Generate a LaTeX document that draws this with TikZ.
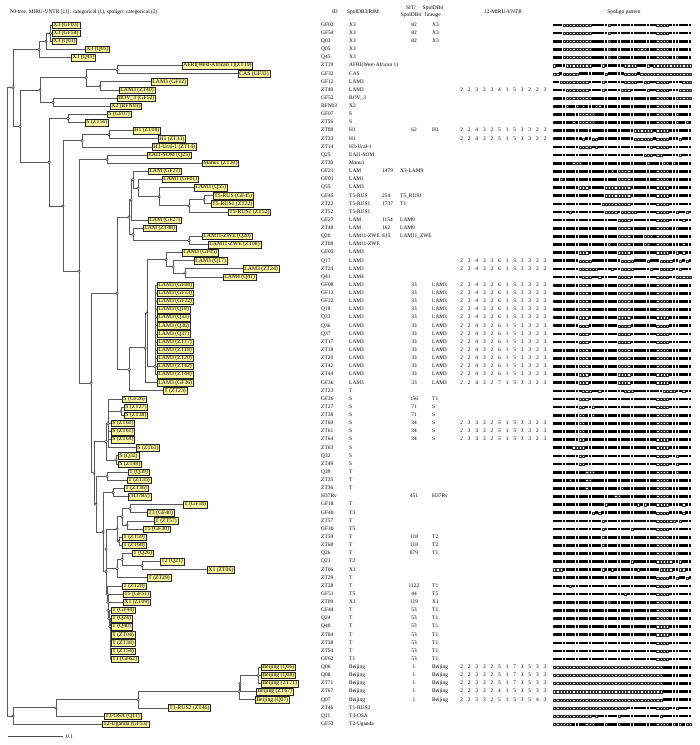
\documentclass[tikz,border=0pt]{standalone}
\usepackage{fontspec}
\setmainfont{Liberation Serif}
\usetikzlibrary{shadows}
\definecolor{labfill}{RGB}{250,246,160}
\definecolor{treeg}{RGB}{90,90,90}
\tikzset{
 tl/.style={draw=treeg, line width=0.85pt},
 lab/.style={draw=black!85, line width=0.45pt, fill=labfill, anchor=west, font=\fontsize{5.7}{6}\selectfont, inner xsep=1.2pt, inner ysep=0.85pt, text height=3.7pt, text depth=1.1pt, drop shadow={shadow xshift=0.5pt, shadow yshift=-0.5pt, fill=black!45, opacity=1}},
 tab/.style={anchor=west, inner sep=0pt, font=\fontsize{5.4}{6}\selectfont, text height=3.6pt, text depth=1pt},
 tabc/.style={tab, anchor=center},
 hdr/.style={inner sep=0pt, font=\fontsize{5.4}{6}\selectfont},
 spolon/.style={fill=black},
 spoloff/.style={draw=black!80, line width=0.35pt, fill=white},
 nd/.style={draw=black!80, fill=white, line width=0.45pt},
}
\newcount\spi
\def\spolloop#1{%
  \ifx\relax#1\else
    \ifnum#1=1
      \fill[spolon] ({553+3.23*\the\spi},{\spy-1.35}) rectangle ++(2.75,2.7);%
    \else
      \draw[spoloff] ({553.25+3.23*\the\spi},{\spy-1.1}) rectangle ++(2.25,2.2);%
    \fi
    \advance\spi by 1
    \expandafter\spolloop
  \fi}
\newcommand\spolrow[2]{\pgfmathsetmacro\spy{25+8.13*(#1-1)}\spi=0 \expandafter\spolloop#2\relax}
\newcommand\trow[3]{\pgfmathsetmacro\yy{25+8.13*(#1-1)}%
  \node[tab] (id#1) at (321,\yy) {#2};\node[tab] (db#1) at (349,\yy) {#3};}
\newcommand\sitA[3]{\pgfmathsetmacro\yy{25+8.13*(#1-1)}%
  \node[tabc] (sit#1) at (414,\yy) {#2};\node[tab] (lin#1) at (432,\yy) {#3};}
\newcommand\sitB[3]{\pgfmathsetmacro\yy{25+8.13*(#1-1)}%
  \node[tab] (sit#1) at (382,\yy) {#2};\node[tab] (lin#1) at (400,\yy) {#3};}
\newcommand\miru[2]{\pgfmathsetmacro\yy{25+8.13*(#1-1)}%
  \foreach \d [count=\k from 0] in {#2} {\node[tabc] (m#1-\k) at ({461.7+7.57*\k},\yy) {\d};}}
\newcommand\leaf[4]{\pgfmathsetmacro\yy{25+8.13*(#2-1)}\node[lab] (#1) at (#3,\yy) {#4};}
\newcommand\brn[2]{\draw[tl] (#1) |- (#2);}
\def\pXiii{111 000000000 11111 0 1111111111 1111 0000 1111111}
\def\pLAMiii{11111111 000 111111111 0000 11111111 0000 1111111}
\def\pSxxxiv{11111111 00 1111111111 1111111111 11 0000 1111111}
\def\pTi{1111111111 1111111111 1111111111 11 0000 1111111}
\def\pBeij{0000000000 0000000000 0000000000 0000 111111111}
\begin{document}
\begin{tikzpicture}[x=1pt,y=-1pt]
\useasboundingbox (0,0) rectangle (700,745);
\fill[white] (0,0) rectangle (700,745);
% headers
\node[hdr, anchor=west] (title) at (10,12) {NJ-tree, MIRU-VNTR [11]: categorical (1), spoligo: categorical (2)};
\node[hdr] (hID) at (335,12) {ID};
\node[hdr] (hDB3) at (363,12) {SpolDB3/RIM};
\node[hdr] (hSIT) at (411,8) {SIT/};
\node[hdr] (hSITb) at (411,15.5) {SpolDB4};
\node[hdr] (hLin) at (433,8) {SpolDB4};
\node[hdr] (hLinb) at (433,15.5) {lineage};
\node[hdr] (hMIRU) at (503,12) {12-MIRU-VNTR};
\node[hdr] (hSpol) at (624,12) {Spoligo pattern};
% leaves
\leaf{L1}{1}{52}{X3 (GF03)}
\leaf{L2}{2}{52}{X3 (GF54)}
\leaf{L3}{3}{52}{X3 (Q03)}
\leaf{L4}{4}{85}{X3 (Q05)}
\leaf{L5}{5}{71}{X3 (Q45)}
\leaf{L6}{6}{182}{AFRI(West-African 1)(ZT19)}
\leaf{L7}{7}{238}{CAS (GF32)}
\leaf{L8}{8}{151}{LAM3 (GF12)}
\leaf{L9}{9}{119}{LAM3 (ZT40)}
\leaf{L10}{10}{117}{BOV\_3 (GF52)}
\leaf{L11}{11}{110}{X2 (BFN03)}
\leaf{L12}{12}{107}{S (GF07)}
\leaf{L13}{13}{85}{S (ZT56)}
\leaf{L14}{14}{133}{H1 (ZT08)}
\leaf{L15}{15}{158}{H1 (ZT33)}
\leaf{L16}{16}{152}{H3-Ural-1 (ZT14)}
\leaf{L17}{17}{147}{EAI1-SOM (Q25)}
\leaf{L18}{18}{202}{Manu1 (ZT30)}
\leaf{L19}{19}{148}{LAM (GF21)}
\leaf{L20}{20}{162}{LAM1 (GF01)}
\leaf{L21}{21}{194}{LAM3 (Q55)}
\leaf{L22}{22}{213}{T5-RUS (GF45)}
\leaf{L23}{23}{211}{T5-RUS1 (ZT22)}
\leaf{L24}{24}{228}{T5-RUS1 (ZT52)}
\leaf{L25}{25}{148}{LAM (GF27)}
\leaf{L26}{26}{143}{LAM (ZT48)}
\leaf{L27}{27}{202}{LAM11-ZWE (Q20)}
\leaf{L28}{28}{208}{LAM11-ZWE (ZT08)}
\leaf{L29}{29}{182}{LAM3 (GF05)}
\leaf{L30}{30}{194}{LAM3 (Q17)}
\leaf{L31}{31}{243}{LAM3 (ZT24)}
\leaf{L32}{32}{223}{LAM4 (Q41)}
\leaf{L33}{33}{157}{LAM3 (GF08)}
\leaf{L34}{34}{157}{LAM3 (GF13)}
\leaf{L35}{35}{157}{LAM3 (GF22)}
\leaf{L36}{36}{157}{LAM3 (Q18)}
\leaf{L37}{37}{157}{LAM3 (Q33)}
\leaf{L38}{38}{157}{LAM3 (Q36)}
\leaf{L39}{39}{157}{LAM3 (Q37)}
\leaf{L40}{40}{157}{LAM3 (ZT17)}
\leaf{L41}{41}{157}{LAM3 (ZT18)}
\leaf{L42}{42}{157}{LAM3 (ZT20)}
\leaf{L43}{43}{157}{LAM3 (ZT42)}
\leaf{L44}{44}{157}{LAM3 (ZT44)}
\leaf{L45}{45}{157}{LAM3 (GF36)}
\leaf{L46}{46}{163}{T (ZT23)}
\leaf{L47}{47}{122}{S (GF26)}
\leaf{L48}{48}{124}{S (ZT27)}
\leaf{L49}{49}{124}{S (ZT38)}
\leaf{L50}{50}{111}{S (ZT60)}
\leaf{L51}{51}{111}{S (ZT61)}
\leaf{L52}{52}{111}{S (ZT64)}
\leaf{L53}{53}{136}{S (ZT63)}
\leaf{L54}{54}{118}{S (Q32)}
\leaf{L55}{55}{118}{S (ZT49)}
\leaf{L56}{56}{128}{T (Q39)}
\leaf{L57}{57}{127}{T (ZT35)}
\leaf{L58}{58}{124}{T (ZT36)}
\leaf{L59}{59}{128}{(H37Rv)}
\leaf{L60}{60}{183}{T (GF18)}
\leaf{L61}{61}{147}{T3 (GF40)}
\leaf{L62}{62}{154}{T (ZT57)}
\leaf{L63}{63}{143}{T5 (GF30)}
\leaf{L64}{64}{122}{T (ZT59)}
\leaf{L65}{65}{122}{T (ZT68)}
\leaf{L66}{66}{132}{T (Q26)}
\leaf{L67}{67}{160}{T2 (Q21)}
\leaf{L68}{68}{207}{X1 (ZT06)}
\leaf{L69}{69}{147}{T (ZT29)}
\leaf{L70}{70}{122}{T (ZT28)}
\leaf{L71}{71}{123}{T5 (GF51)}
\leaf{L72}{72}{123}{X1 (ZT09)}
\leaf{L73}{73}{111}{T (GF44)}
\leaf{L74}{74}{111}{T (Q24)}
\leaf{L75}{75}{111}{T (Q40)}
\leaf{L76}{76}{111}{T (ZT04)}
\leaf{L77}{77}{111}{T (ZT38)}
\leaf{L78}{78}{111}{T (ZT54)}
\leaf{L79}{79}{111}{T1 (GF62)}
\leaf{L80}{80}{261}{Beijing (Q06)}
\leaf{L81}{81}{261}{Beijing (Q08)}
\leaf{L82}{82}{261}{Beijing (ZT71)}
\leaf{L83}{83}{256}{Beijing (ZT67)}
\leaf{L84}{84}{255}{Beijing (Q07)}
\leaf{L85}{85}{168}{T1-RUS2 (ZT46)}
\leaf{L86}{86}{104}{T3-OSA (Q11)}
\leaf{L87}{87}{102}{T2-Uganda (GF53)}
% internal nodes
\coordinate (x3a) at (50.5,33.13);
\coordinate (x3b) at (46,41.26);
\coordinate (x3c) at (39,49.39);
\coordinate (A) at (13,87.77);
\coordinate (B) at (20,126.15);
\coordinate (C) at (40,90.05);
\coordinate (n86) at (86,77.85);
\coordinate (n117) at (117,69.72);
\coordinate (n100) at (100,85.98);
\coordinate (n53) at (53,102.24);
\coordinate (D) at (49,162.25);
\coordinate (nS1) at (68,118.5);
\coordinate (Q7) at (63,206);
\coordinate (Hn) at (82,140.85);
\coordinate (H1n) at (109,134.76);
\coordinate (Q6) at (79,271.1);
\coordinate (EAIn) at (107,159.15);
\coordinate (Q5) at (91,383.1);
\coordinate (Q4) at (117,293.25);
\coordinate (Li) at (129,217.1);
\coordinate (Lf) at (131,199.9);
\coordinate (La) at (133,179.7);
\coordinate (Lb) at (138,188.1);
\coordinate (Lc) at (159,196.75);
\coordinate (Ld) at (189,205.9);
\coordinate (Le) at (204,199.8);
\coordinate (Lh) at (133,234.35);
\coordinate (Lg) at (189,240.45);
\coordinate (Q3) at (129,369.4);
\coordinate (Q2) at (145,347.9);
\coordinate (Q1) at (147,313.1);
\coordinate (G1) at (166,259.75);
\coordinate (G2) at (173,266.87);
\coordinate (G3) at (185,272.97);
\coordinate (P) at (155,366.46);
\coordinate (ST) at (94,472.9);
\coordinate (SS) at (106,441.7);
\coordinate (SX) at (108,423.4);
\coordinate (Sa) at (121,411.18);
\coordinate (Sb) at (116,459.96);
\coordinate (Tn) at (96,504.1);
\coordinate (Ta) at (107,476.2);
\coordinate (Tm) at (103,532);
\coordinate (Tb) at (113,492.5);
\coordinate (Tl) at (106,571.5);
\coordinate (Tk) at (106,548.9);
\coordinate (Tg) at (117,529.1);
\coordinate (Te) at (122,516.9);
\coordinate (Tc) at (130,508.7);
\coordinate (Td) at (127,525);
\coordinate (Tf) at (119,541.25);
\coordinate (Tj) at (117,568.7);
\coordinate (Ti) at (122,559.55);
\coordinate (Th) at (142,565.65);
\coordinate (U1) at (107,594.1);
\coordinate (U2) at (108,602.2);
\coordinate (U3) at (108,610.3);
\coordinate (U4) at (109,618.4);
\coordinate (U5) at (110,626.4);
\coordinate (U6) at (110,634.25);
\coordinate (U7) at (110,641.9);
\coordinate (U8) at (110,649);
\coordinate (U9) at (110,655.1);
\coordinate (root) at (7,401.9);
\coordinate (Z3) at (13,716);
\coordinate (Z2) at (56,707.9);
\coordinate (Z1) at (138,699.8);
\coordinate (Bj3) at (239,691.65);
\coordinate (Bj2) at (240,683.5);
\coordinate (Bj1) at (258,675.4);
% branches
\brn{x3a}{L1.west}\brn{x3a}{L2.west}\brn{x3a}{L3.west}
\brn{x3b}{x3a}\brn{x3b}{L4.west}
\brn{x3c}{x3b}\brn{x3c}{L5.west}
\brn{A}{x3c}\brn{A}{B}
\brn{B}{C}\brn{B}{D}
\brn{C}{n86}\brn{C}{n53}
\brn{n86}{n117}\brn{n86}{n100}
\brn{n117}{L6.west}\brn{n117}{L7.west}
\brn{n100}{L8.west}\brn{n100}{L9.west}
\brn{n53}{L10.west}\brn{n53}{L11.west}
\brn{D}{nS1}\brn{D}{Q7}
\brn{nS1}{L12.west}\brn{nS1}{L13.west}
\brn{Q7}{Hn}\brn{Q7}{Q6}
\brn{Hn}{H1n}\brn{Hn}{L16.west}
\brn{H1n}{L14.west}\brn{H1n}{L15.west}
\brn{Q6}{EAIn}\brn{Q6}{Q5}
\brn{EAIn}{L17.west}\brn{EAIn}{L18.west}
\brn{Q5}{Q4}\brn{Q5}{ST}
\brn{Q4}{Li}\brn{Q4}{Q3}
\brn{Li}{Lf}\brn{Li}{Lh}
\brn{Lf}{La}\brn{Lf}{L25.west}
\brn{La}{L19.west}\brn{La}{Lb}
\brn{Lb}{L20.west}\brn{Lb}{Lc}
\brn{Lc}{L21.west}\brn{Lc}{Ld}
\brn{Ld}{Le}\brn{Ld}{L24.west}
\brn{Le}{L22.west}\brn{Le}{L23.west}
\brn{Lh}{L26.west}\brn{Lh}{Lg}
\brn{Lg}{L27.west}\brn{Lg}{L28.west}
\brn{Q3}{Q2}\brn{Q3}{L46.west}
\brn{Q2}{Q1}\brn{Q2}{L45.west}
\brn{Q1}{G1}\brn{Q1}{P}
\brn{G1}{L29.west}\brn{G1}{G2}
\brn{G2}{L30.west}\brn{G2}{G3}
\brn{G3}{L31.west}\brn{G3}{L32.west}
\foreach \k in {33,...,44} {\brn{P}{L\k.west}}
\brn{ST}{SS}\brn{ST}{Tn}
\brn{SS}{SX}\brn{SS}{Sb}
\brn{SX}{L47.west}\brn{SX}{Sa}\brn{SX}{L50.west}\brn{SX}{L51.west}\brn{SX}{L52.west}\brn{SX}{L53.west}
\brn{Sa}{L48.west}\brn{Sa}{L49.west}
\brn{Sb}{L54.west}\brn{Sb}{L55.west}
\brn{Tn}{Ta}\brn{Tn}{Tm}
\brn{Ta}{L56.west}\brn{Ta}{L57.west}
\brn{Tm}{Tb}\brn{Tm}{Tl}
\brn{Tb}{L58.west}\brn{Tb}{L59.west}
\brn{Tl}{Tk}\brn{Tl}{U1}
\brn{Tk}{Tg}\brn{Tk}{Tj}
\brn{Tg}{Te}\brn{Tg}{Tf}
\brn{Te}{Tc}\brn{Te}{Td}
\brn{Tc}{L60.west}\brn{Tc}{L61.west}
\brn{Td}{L62.west}\brn{Td}{L63.west}
\brn{Tf}{L64.west}\brn{Tf}{L65.west}
\brn{Tj}{Ti}\brn{Tj}{L69.west}
\brn{Ti}{L66.west}\brn{Ti}{Th}
\brn{Th}{L67.west}\brn{Th}{L68.west}
\brn{U1}{L70.west}\brn{U1}{U2}
\brn{U2}{L71.west}\brn{U2}{U3}
\brn{U3}{L72.west}\brn{U3}{U4}
\brn{U4}{L73.west}\brn{U4}{U5}
\brn{U5}{L74.west}\brn{U5}{U6}
\brn{U6}{L75.west}\brn{U6}{U7}
\brn{U7}{L76.west}\brn{U7}{U8}
\brn{U8}{L77.west}\brn{U8}{U9}
\brn{U9}{L78.west}\brn{U9}{L79.west}
\brn{root}{A}\brn{root}{Z3}
\brn{Z3}{Z2}\brn{Z3}{L87.west}
\brn{Z2}{Z1}\brn{Z2}{L86.west}
\brn{Z1}{Bj3}\brn{Z1}{L85.west}
\brn{Bj3}{Bj2}\brn{Bj3}{L84.west}
\brn{Bj2}{Bj1}\brn{Bj2}{L83.west}
\brn{Bj1}{L80.west}\brn{Bj1}{L81.west}\brn{Bj1}{L82.west}
\foreach \n in {x3a,x3b,x3c,A,B,C,n86,n117,n100,n53,nS1,D,Q7,Hn,H1n,Q6,EAIn,Q5,Q4,Li,Lf,La,Lb,Lc,Ld,Le,Lh,Lg,Q3,Q2,Q1,G1,G2,G3,P,ST,SS,SX,Sa,Sb,Tn,Ta,Tm,Tb,Tl,Tk,Tg,Te,Tc,Td,Tf,Tj,Ti,Th,U1,U2,U3,U4,U5,Z3,Z2,Z1,Bj3,Bj2,Bj1}
  {\draw[nd] (\n) circle (1.3);}
% scale bar
\coordinate (sb1) at (8,736.7);
\coordinate (sb2) at (63,736.7);
\draw[black!70, line width=0.6pt] (sb1) -- (sb2);
\node[tab] (sbl) at (66,737) {0.1};
% table
\trow{1}{GF03}{X3}\sitA{1}{82}{X3}
\trow{2}{GF54}{X3}\sitA{2}{82}{X3}
\trow{3}{Q03}{X3}\sitA{3}{82}{X3}
\trow{4}{Q05}{X3}
\trow{5}{Q45}{X3}
\trow{6}{ZT19}{AFRI(West-African 1)}
\trow{7}{GF32}{CAS}
\trow{8}{GF12}{LAM3}
\trow{9}{ZT40}{LAM3}\miru{9}{2,2,3,2,3,4,1,5,3,2,2,3}
\trow{10}{GF52}{BOV\_3}
\trow{11}{BFN03}{X2}
\trow{12}{GF07}{S}
\trow{13}{ZT56}{S}
\trow{14}{ZT08}{H1}\sitA{14}{62}{H1}\miru{14}{2,2,4,3,2,5,1,5,3,3,2,2}
\trow{15}{ZT33}{H1}\miru{15}{2,2,4,3,2,5,1,5,3,3,2,2}
\trow{16}{ZT14}{H3-Ural-1}
\trow{17}{Q25}{EAI1-SOM}
\trow{18}{ZT30}{Manu1}
\trow{19}{GF21}{LAM}\sitB{19}{1479}{X3-LAM9}
\trow{20}{GF01}{LAM1}
\trow{21}{Q55}{LAM3}
\trow{22}{GF45}{T5-RUS}\sitB{22}{254}{T5\_RUS1}
\trow{23}{ZT22}{T5-RUS1}\sitB{23}{1737}{T1}
\trow{24}{ZT52}{T5-RUS1}
\trow{25}{GF27}{LAM}\sitB{25}{1154}{LAM9}
\trow{26}{ZT48}{LAM}\sitB{26}{162}{LAM9}
\trow{27}{Q20}{LAM11-ZWE}\sitB{27}{815}{LAM11\_ZWE}
\trow{28}{ZT08}{LAM11-ZWE}
\trow{29}{GF05}{LAM3}
\trow{30}{Q17}{LAM3}\miru{30}{2,2,4,3,3,6,1,5,3,3,2,3}
\trow{31}{ZT24}{LAM3}\miru{31}{2,2,4,3,2,6,1,5,3,3,2,2}
\trow{32}{Q41}{LAM4}
\foreach \r/\i in {33/GF08,34/GF13,35/GF22,36/Q18,37/Q33,38/Q36,39/Q37,40/ZT17,41/ZT18,42/ZT20,43/ZT42,44/ZT44}
  {\trow{\r}{\i}{LAM3}\sitA{\r}{33}{LAM3}\miru{\r}{2,2,4,3,2,6,1,5,3,3,2,3}}
\trow{45}{GF36}{LAM3}\sitA{45}{33}{LAM3}\miru{45}{2,2,4,3,2,7,1,5,3,3,2,3}
\trow{46}{ZT23}{T}
\trow{47}{GF26}{S}\sitA{47}{156}{T1}
\trow{48}{ZT27}{S}\sitA{48}{71}{S}
\trow{49}{ZT38}{S}\sitA{49}{71}{S}
\trow{50}{ZT60}{S}\sitA{50}{34}{S}\miru{50}{2,3,3,3,2,5,1,5,3,3,2,3}
\trow{51}{ZT61}{S}\sitA{51}{34}{S}\miru{51}{2,3,3,3,2,5,1,5,3,3,2,3}
\trow{52}{ZT64}{S}\sitA{52}{34}{S}\miru{52}{2,3,3,3,2,5,1,5,3,3,2,3}
\trow{53}{ZT63}{S}
\trow{54}{Q32}{S}
\trow{55}{ZT49}{S}
\trow{56}{Q39}{T}
\trow{57}{ZT35}{T}
\trow{58}{ZT36}{T}
\trow{59}{H37Rv}{}\sitA{59}{451}{H37Rv}
\trow{60}{GF18}{T}
\trow{61}{GF40}{T3}
\trow{62}{ZT57}{T}
\trow{63}{GF30}{T5}
\trow{64}{ZT59}{T}\sitA{64}{118}{T2}
\trow{65}{ZT68}{T}\sitA{65}{118}{T2}
\trow{66}{Q26}{T}\sitA{66}{879}{T1}
\trow{67}{Q21}{T2}
\trow{68}{ZT06}{X1}
\trow{69}{ZT29}{T}
\trow{70}{ZT28}{T}\sitA{70}{1122}{T1}
\trow{71}{GF51}{T5}\sitA{71}{44}{T5}
\trow{72}{ZT09}{X1}\sitA{72}{119}{X1}
\trow{73}{GF44}{T}\sitA{73}{53}{T1}
\trow{74}{Q24}{T}\sitA{74}{53}{T1}
\trow{75}{Q40}{T}\sitA{75}{53}{T1}
\trow{76}{ZT04}{T}\sitA{76}{53}{T1}
\trow{77}{ZT38}{T}\sitA{77}{53}{T1}
\trow{78}{ZT54}{T}\sitA{78}{53}{T1}
\trow{79}{GF62}{T1}\sitA{79}{53}{T1}
\trow{80}{Q06}{Beijing}\sitA{80}{1}{Beijing}\miru{80}{2,2,3,3,2,5,1,7,3,5,3,3}
\trow{81}{Q08}{Beijing}\sitA{81}{1}{Beijing}\miru{81}{2,2,3,3,2,5,1,7,3,5,3,3}
\trow{82}{ZT71}{Beijing}\sitA{82}{1}{Beijing}\miru{82}{2,2,3,3,2,5,1,7,3,5,3,3}
\trow{83}{ZT67}{Beijing}\sitA{83}{1}{Beijing}\miru{83}{2,2,3,3,2,4,1,5,3,5,3,3}
\trow{84}{Q07}{Beijing}\sitA{84}{1}{Beijing}\miru{84}{2,2,3,3,2,5,1,5,3,5,4,3}
\trow{85}{ZT46}{T1-RUS2}
\trow{86}{Q11}{T3-OSA}
\trow{87}{GF53}{T2-Uganda}
% spoligo patterns
\spolrow{1}{\pXiii}
\spolrow{2}{\pXiii}
\spolrow{3}{\pXiii}
\spolrow{4}{111 000000000 11111 0 11111111 000 111 0000 1111111}
\spolrow{5}{111 000000000 11111 0 11 0 1111111111 1 0000 11 0 1111}
\spolrow{6}{0111 00000000 111 0 111111 0000 111 0 1 0000000000 00}
\spolrow{7}{00100000 11111111 0 11111 0000 1 0000000000 000000}
\spolrow{8}{11 000000000 1111 0 111111 0000 11 00 11 0000 1111 000}
\spolrow{9}{1111 0000000 1111 0 11111 000 11111 0 11 0000 111 0000}
\spolrow{10}{1111 00000000 1111111111 1111111111 0000 11 00000}
\spolrow{11}{1111 0 11 0 1 0 111 00 1111111111 1111111 0000 1111111}
\spolrow{12}{11111111 00000 1111111111 111111111 0000 11 0 1111}
\spolrow{13}{111111 0 1 00000 1111111111 111111111 0000 11 0 11 0 1}
\spolrow{14}{1111111111 1111111111 11111 000000 1 0000 1111111}
\spolrow{15}{111111111 0 11 00 1111111111 1 000000 1 0000 111 0 111}
\spolrow{16}{11111111 0000 1 0 1111111111 111111 0 1 0000 1111111}
\spolrow{17}{1111111111 1111111111 11111111 000 1 00 11111 0 111}
\spolrow{18}{111111 000 1111111111 1111111111 0 1111 00 1 0 11111}
\spolrow{19}{1111111111 11111111 0 1 0000 11111111 0000 1111111}
\spolrow{20}{11 0 1111111111 1111111 0000 11111111 0000 1111111}
\spolrow{21}{11111111 000 11111 00000000 11111111 0000 1111111}
\spolrow{22}{1111111111 111111 00000000 11111111 0000 1111111}
\spolrow{23}{1111111111 11111 000000000 11111111 0000 1111111}
\spolrow{24}{11111 0 1111111111 0000 1 00000 111111 0000 11 0 11 0 1}
\spolrow{25}{1111111111 1111111111 0000 11111111 0000 1111 0 11}
\spolrow{26}{1111111111 1111111111 0000 11111111 0000 11 0 1111}
\spolrow{27}{1111111111 1111111111 0000 1111 000 1 0000 1111111}
\spolrow{28}{1111111111 1111111 0 11 0000 1111 00 11 0000 1111 0 11}
\spolrow{29}{11111111 000 111111111 0000 11111111 0000 11 0 1 0 11}
\spolrow{30}{11111111 0000 111111111 0000 1111 0 111 0000 11 0 1 0 1}
\spolrow{31}{11111111 000000 1111 0 11 0000 11111 0 11 0000 11 0 111}
\spolrow{32}{111111111 000 11 0 11111 0000 11111111 0000 11 0 0000}
\foreach \r in {33,...,45} {\spolrow{\r}{\pLAMiii}}
\spolrow{46}{111111111 000 11 0 1111111 000 111111111 0000 11 0 11}
\spolrow{47}{11111111 000 1111111111 1111111111 1 0000 1111111}
\spolrow{48}{11111111 00 11 0 1111111111 111111111 0000 1111111}
\spolrow{49}{11111111 00 11 0 1111111111 111111111 0000 1111111}
\spolrow{50}{\pSxxxiv}
\spolrow{51}{\pSxxxiv}
\spolrow{52}{\pSxxxiv}
\spolrow{53}{111111 0000 1111111111 1111111111 11 0000 1111111}
\spolrow{54}{11111111 00 1111111111 1111111111 11 0000 11 0 1111}
\spolrow{55}{11111111 00 1111111111 1111111111 11 0000 11 0 1111}
\spolrow{56}{1111111111 000 1111111111 111111111 0000 11 0 1111}
\spolrow{57}{11111 0 1111 00 1111111111 1111111111 0000 1111111}
\spolrow{58}{1111111111 0 1111111111 0 1111111111 0000 1111111}
\spolrow{59}{1111111111 111111111 00 1111111111 1 0000 1111111}
\spolrow{60}{1111111111 111111 0 111111111 0 1 0 111 0000 1111 0 11}
\spolrow{61}{1111111111 11 0 1 0 1111111111 1111111 0000 1111 0 11}
\spolrow{62}{1111111111 11111 0 1111111111 111111 000000 1 0 111}
\spolrow{63}{1111111111 11111 0 11111111 0 1111111 0000 1111111}
\spolrow{64}{1111111111 11111 0 1111111111 111111 0000 1111111}
\spolrow{65}{1111111111 11111 0 1111111111 111111 0000 1111111}
\spolrow{66}{1111111111 1111111111 1111111111 11 0000 11 0 1111}
\spolrow{67}{1111111111 1111111111 1111 0 1111111 00000 11 0 111}
\spolrow{68}{000 1111111111 11 0 11 0 1111111 0 111111 0000 11 00 11}
\spolrow{69}{1111111111 1111111111 1111111111 11 0000 11 0 11 0 1}
\spolrow{70}{11111 0 1111111111 1111111111 111111 0000 1111111}
\spolrow{71}{1111111111 1111111111 11 0 111111111 0000 1111111}
\spolrow{72}{1111111111 1111111 0 1111111111 1111 0000 1111111}
\foreach \r in {73,...,79} {\spolrow{\r}{\pTi}}
\foreach \r in {80,...,84} {\spolrow{\r}{\pBeij}}
\spolrow{85}{0000000000 0000000000 000 111111111 0000 11 0 1111}
\spolrow{86}{0000000000 00 1 0 111111 0 1111111111 11 0 111111111}
\spolrow{87}{000000 1111 000 111 0 111 0 1111111111 1 0000 1 0 1 0 1 00}
\end{tikzpicture}
\end{document}
